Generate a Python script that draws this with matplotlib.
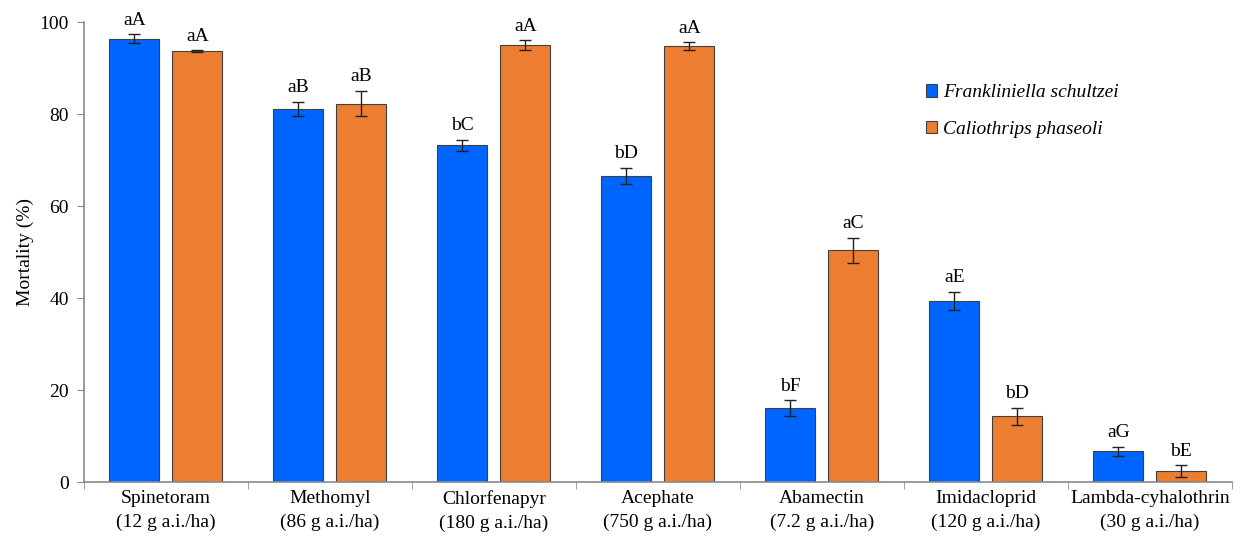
import matplotlib
matplotlib.use("Agg")
import matplotlib.pyplot as plt
import numpy as np

plt.rcParams["font.family"] = ["Liberation Serif", "DejaVu Serif"]

categories = ["Spinetoram\n(12 g a.i./ha)", "Methomyl\n(86 g a.i./ha)",
              "Chlorfenapyr\n(180 g a.i./ha)", "Acephate\n(750 g a.i./ha)",
              "Abamectin\n(7.2 g a.i./ha)", "Imidacloprid\n(120 g a.i./ha)",
              "Lambda-cyhalothrin\n(30 g a.i./ha)"]

fs_mean = [96.4, 81.2, 73.2, 66.6, 16.1, 39.4, 6.7]
fs_err = [1.0, 1.5, 1.2, 1.7, 1.7, 2.0, 1.0]
fs_letters = ["aA", "aB", "bC", "bD", "bF", "aE", "aG"]

cp_mean = [93.7, 82.3, 95.0, 94.8, 50.4, 14.3, 2.3]
cp_err = [0.2, 2.8, 1.1, 0.8, 2.7, 1.8, 1.3]
cp_letters = ["aA", "aB", "aA", "aA", "aC", "bD", "bE"]

series_names = ["Frankliniella schultzei", "Caliothrips phaseoli"]
yticks = [0, 20, 40, 60, 80, 100]

blue = "#0064FF"
orange = "#ED7D31"
edge = "#404040"
spine_col = "#8a8a8a"

fig = plt.figure(figsize=(12.48, 5.41), dpi=100)
ax = fig.add_axes([0.0673, 0.109, 0.9197, 0.850])

x = np.arange(len(categories))
w = 0.305
off = 0.192

err_kw = dict(ecolor="#222222", elinewidth=1.0, capsize=4, capthick=1.0)
ax.bar(x - off, fs_mean, w, color=blue, edgecolor=edge, linewidth=0.8,
       yerr=fs_err, error_kw=err_kw, label=series_names[0], zorder=2)
ax.bar(x + off, cp_mean, w, color=orange, edgecolor=edge, linewidth=0.8,
       yerr=cp_err, error_kw=err_kw, label=series_names[1], zorder=2)

for xi, m, e, t in zip(x - off, fs_mean, fs_err, fs_letters):
    ax.annotate(t, (xi, m + e), xytext=(0, 4), textcoords="offset points",
                ha="center", va="bottom", fontsize=14)
for xi, m, e, t in zip(x + off, cp_mean, cp_err, cp_letters):
    ax.annotate(t, (xi, m + e), xytext=(0, 4), textcoords="offset points",
                ha="center", va="bottom", fontsize=14)

ax.set_xlim(-0.5, len(categories) - 0.5)
ax.set_ylim(0, 100)
ax.set_yticks(yticks)
ax.tick_params(axis="y", labelsize=14, direction="out", length=5,
               color=spine_col, pad=6)
ax.set_xticks(x)
ax.set_xticklabels(categories, fontsize=14, linespacing=1.5)
ax.tick_params(axis="x", length=0, pad=6)
ax.set_xticks(np.arange(-0.5, len(categories) + 0.5, 1.0), minor=True)
ax.tick_params(axis="x", which="minor", direction="out", length=5,
               color=spine_col)

ax.set_ylabel("Mortality (%)", fontsize=14, labelpad=4)

for s in ["top", "right"]:
    ax.spines[s].set_visible(False)
for s in ["left", "bottom"]:
    ax.spines[s].set_color(spine_col)
    ax.spines[s].set_linewidth(1.2)

ax.legend(loc="upper left", bbox_to_anchor=(0.718, 0.903), frameon=False,
          prop={"style": "italic", "size": 14}, handlelength=0.6,
          handleheight=0.6, handletextpad=0.3, labelspacing=1.0)

fig.savefig("out.png", dpi=100)
